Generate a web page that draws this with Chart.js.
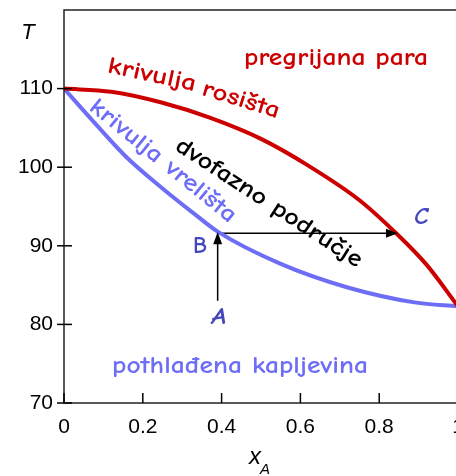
<!DOCTYPE html>
<html>
<head>
<meta charset="utf-8">
<script src="https://cdn.jsdelivr.net/npm/chart.js@4"></script>
<style>
    html, body { margin: 0; padding: 0; background: #fff; overflow: hidden; width: 456px; height: 476px; }
    canvas { display: block; }
</style>
</head>
<body>
<canvas id="phaseChart" width="462" height="476" style="width:462px;height:476px"></canvas>
<script>
// krivulja rosista (dew curve) and krivulja vrelista (boiling curve)
const dewX = [0, 0.12, 0.25, 0.37, 0.5, 0.62, 0.75, 0.845, 0.92, 1.0];
const dewT = [110, 109.6, 108.2, 106.3, 103.6, 100.2, 95.8, 91.5, 87.6, 82.3];
const boilX = [0, 0.08, 0.16, 0.25, 0.33, 0.39, 0.55, 0.72, 0.89, 1.0];
const boilT = [110, 105.5, 101.2, 97.3, 94.1, 91.8, 87.7, 84.7, 82.8, 82.3];
const xTicks = [0, 0.2, 0.4, 0.6, 0.8, 1];
const xTickLabels = ["0", "0.2", "0.4", "0.6", "0.8", "1"];
const yTicks = [70, 80, 90, 100, 110];
// process A -> B -> C
const pathX = [0.39, 0.39, 0.845];
const pathT = [83.0, 91.6, 91.6];

const RED = "#cc0000";
const BLUE = "#6d6df6";
const LETTER = "#4545bd";
const HAND = '"Comic Sans MS", "Comic Neue", "Open Sans", sans-serif';
const PLAIN = '"Liberation Sans", Arial, sans-serif';

function toPoints(xs, ys) {
    return xs.map((x, i) => ({ x: x, y: ys[i] }));
}

function fitText(ctx, text, x, y, angle, width, font, color) {
    ctx.save();
    ctx.font = font;
    ctx.fillStyle = color;
    ctx.textAlign = "center";
    ctx.textBaseline = "middle";
    const w = ctx.measureText(text).width;
    ctx.translate(x, y);
    ctx.rotate(angle * Math.PI / 180);
    ctx.scale(width / w, 1);
    ctx.fillText(text, 0, 0);
    ctx.restore();
}

const framePlugin = {
    id: "frame",
    afterDraw(chart) {
        const ctx = chart.ctx;
        const area = chart.chartArea;
        const xs = chart.scales.x;
        const ys = chart.scales.y;
        ctx.save();
        // frame
        ctx.strokeStyle = "#222";
        ctx.lineWidth = 1.5;
        ctx.strokeRect(area.left, area.top, area.right - area.left, area.bottom - area.top);
        // ticks
        ctx.strokeStyle = "#000";
        yTicks.forEach(v => {
            const py = ys.getPixelForValue(v);
            ctx.beginPath();
            ctx.moveTo(area.left - 7, py);
            ctx.lineTo(area.left + 8, py);
            ctx.stroke();
        });
        ctx.fillStyle = "#000";
        ctx.font = "21px " + PLAIN;
        ctx.textAlign = "center";
        ctx.textBaseline = "alphabetic";
        xTicks.forEach((v, i) => {
            const px = xs.getPixelForValue(v);
            ctx.beginPath();
            ctx.moveTo(px, area.bottom);
            ctx.lineTo(px, area.bottom - 10);
            ctx.stroke();
            ctx.fillText(xTickLabels[i], px, area.bottom + 30);
        });
        // arrow heads
        const ax = xs.getPixelForValue(pathX[1]);
        const ay = ys.getPixelForValue(pathT[1]);
        ctx.beginPath();
        ctx.moveTo(ax, ay - 1);
        ctx.lineTo(ax - 4.5, ay + 11);
        ctx.lineTo(ax + 4.5, ay + 11);
        ctx.closePath();
        ctx.fill();
        const cx = xs.getPixelForValue(pathX[2]);
        const cy = ys.getPixelForValue(pathT[2]);
        ctx.beginPath();
        ctx.moveTo(cx + 1, cy);
        ctx.lineTo(cx - 11, cy - 4.5);
        ctx.lineTo(cx - 11, cy + 4.5);
        ctx.closePath();
        ctx.fill();

        // labels
        fitText(ctx, "pregrijana para", 336, 58, 0, 184, "600 24px " + HAND, RED);
        fitText(ctx, "krivulja", 152, 75, 12, 90, "600 24px " + HAND, RED);
        fitText(ctx, "rosišta", 241, 100, 17, 80, "600 24px " + HAND, RED);
        fitText(ctx, "krivulja vrelišta", 163, 161, 39, 182, "600 24px " + HAND, BLUE);
        fitText(ctx, "dvofazno područje", 269, 203, 33, 218, "600 24px " + HAND, "#000");
        fitText(ctx, "pothlađena kapljevina", 240, 366, 0, 256, "600 24px " + HAND, BLUE);
        fitText(ctx, "B", 200, 246, 0, 14, "600 24px " + HAND, LETTER);
        fitText(ctx, "A", 219, 317, 0, 15, "italic 600 24px " + HAND, LETTER);
        fitText(ctx, "C", 421, 217, 0, 14, "italic 600 24px " + HAND, LETTER);

        // axis titles
        ctx.fillStyle = "#000";
        ctx.textAlign = "center";
        ctx.textBaseline = "middle";
        ctx.font = "italic 22px " + PLAIN;
        ctx.fillText("T", 28, 33);
        ctx.font = "italic 24px " + PLAIN;
        ctx.fillText("x", 255, 457);
        ctx.font = "italic 15px " + PLAIN;
        ctx.fillText("A", 265, 470);
        ctx.restore();
    }
};

const ctx = document.getElementById("phaseChart").getContext("2d");
new Chart(ctx, {
    type: "line",
    data: {
        datasets: [
            {
                label: "krivulja rosišta",
                data: toPoints(dewX, dewT),
                borderColor: RED,
                borderWidth: 4,
                pointRadius: 0,
                cubicInterpolationMode: "monotone",
                fill: false
            },
            {
                label: "krivulja vrelišta",
                data: toPoints(boilX, boilT),
                borderColor: BLUE,
                borderWidth: 4,
                pointRadius: 0,
                cubicInterpolationMode: "monotone",
                fill: false
            },
            {
                label: "A-B-C",
                data: toPoints(pathX, pathT),
                borderColor: "#000",
                borderWidth: 1.5,
                pointRadius: 0,
                tension: 0,
                fill: false
            }
        ]
    },
    options: {
        responsive: false,
        animation: false,
        layout: { padding: { top: 10, right: 4, left: 0, bottom: 0 } },
        plugins: {
            legend: { display: false },
            tooltip: { enabled: false }
        },
        scales: {
            x: {
                type: "linear",
                min: 0,
                max: 1,
                grid: { display: false, drawTicks: false },
                border: { display: false },
                afterBuildTicks: (s) => { s.ticks = xTicks.map(v => ({ value: v })); },
                afterFit: (s) => { s.height = 73; s.paddingLeft = 0; s.paddingRight = 0; },
                ticks: { display: false }
            },
            y: {
                type: "linear",
                min: 70,
                max: 120,
                grid: { display: false, drawTicks: false },
                border: { display: false },
                afterBuildTicks: (s) => { s.ticks = yTicks.map(v => ({ value: v })); },
                afterFit: (s) => { s.width = 64; s.paddingTop = 0; s.paddingBottom = 0; },
                ticks: {
                    padding: 11,
                    color: "#000",
                    font: { family: PLAIN, size: 21 }
                }
            }
        }
    },
    plugins: [framePlugin]
});
</script>
</body>
</html>
